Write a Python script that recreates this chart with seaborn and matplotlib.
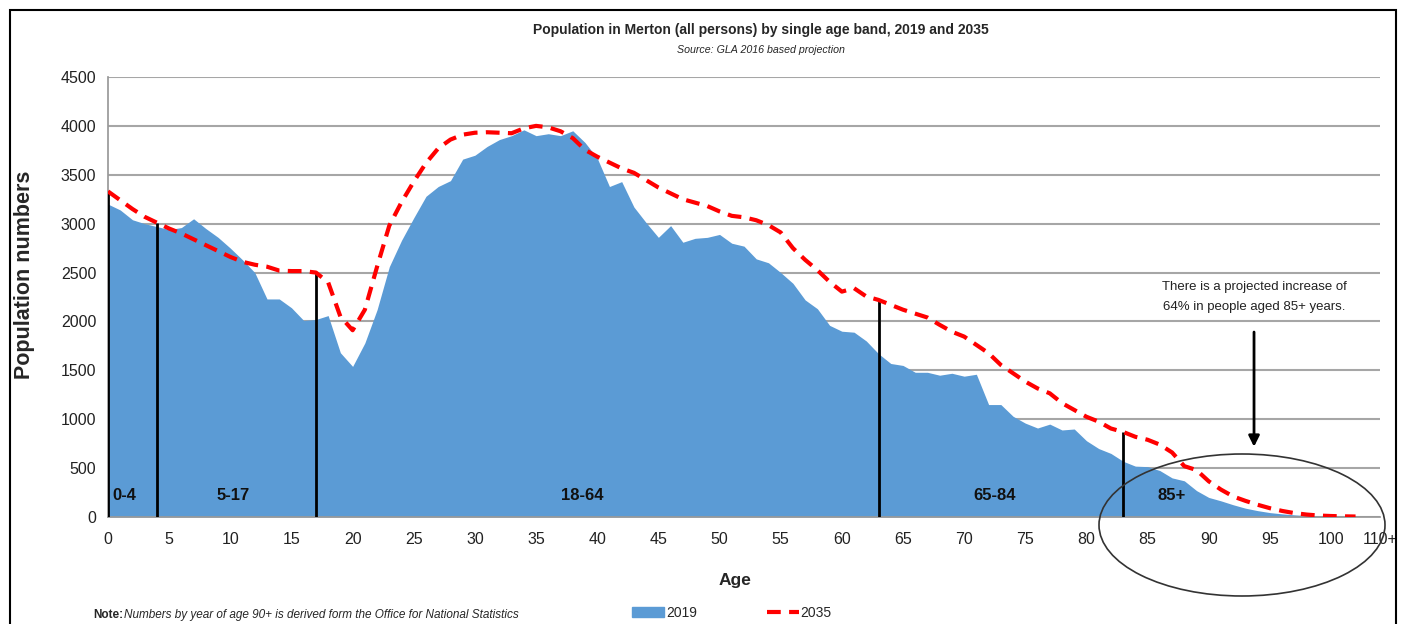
import numpy as np
import matplotlib
matplotlib.use("Agg")
import matplotlib.pyplot as plt
import seaborn as sns
from matplotlib.patches import Ellipse, Patch, Rectangle
from matplotlib.lines import Line2D

# single year of age 0..102
ages = list(range(0, 103))

pop_2019 = [3200, 3140, 3040, 3000, 2970, 2940, 2960, 3050, 2950, 2860,
            2750, 2630, 2500, 2230, 2230, 2140, 2010, 2020, 2060, 1680,
            1540, 1780, 2120, 2560, 2830, 3060, 3280, 3380, 3440, 3660,
            3700, 3790, 3860, 3900, 3960, 3900, 3920, 3900, 3950, 3830,
            3670, 3380, 3430, 3170, 3010, 2860, 2980, 2810, 2850, 2860,
            2890, 2800, 2770, 2640, 2600, 2500, 2390, 2220, 2130, 1960,
            1900, 1890, 1800, 1670, 1570, 1550, 1480, 1480, 1450, 1470,
            1440, 1460, 1150, 1150, 1030, 960, 910, 950, 890, 900,
            780, 700, 650, 570, 520, 515, 475, 400, 370, 270,
            200, 165, 125, 90, 65, 45, 32, 22, 14, 9,
            6, 4, 3]

pop_2035 = [3330, 3240, 3150, 3070, 3010, 2950, 2900, 2840, 2780, 2720,
            2660, 2610, 2580, 2560, 2520, 2515, 2515, 2500, 2400, 2050,
            1910, 2120, 2560, 2980, 3220, 3430, 3620, 3770, 3860, 3910,
            3930, 3935, 3930, 3925, 3975, 4000, 3985, 3945, 3875, 3755,
            3685, 3625, 3565, 3520, 3445, 3370, 3310, 3250, 3215, 3180,
            3125, 3080, 3065, 3035, 2985, 2910, 2750, 2630, 2525, 2405,
            2305, 2340, 2255, 2220, 2170, 2120, 2080, 2040, 1965, 1895,
            1845, 1760, 1675, 1555, 1470, 1385, 1315, 1265, 1165, 1095,
            1025, 975, 905, 870, 820, 790, 740, 660, 520, 480,
            365, 280, 210, 165, 125, 90, 62, 40, 25, 15,
            10, 7, 5]

band_edges = [0, 4, 17, 63, 83]
band_labels = ["0-4", "5-17", "18-64", "65-84", "85+"]
band_label_x = [1.3, 10.2, 38.8, 72.5, 87.0]

tick_pos = list(range(0, 105))
tick_labels = [str(i) if (i % 5 == 0 and i <= 100) else "" for i in tick_pos]
tick_labels[-1] = "110+"

BLUE = "#5B9BD5"
RED = "#FF0000"

sns.set_theme(style="white")
plt.rcParams['font.family'] = ['Liberation Sans', 'DejaVu Sans']

fig = plt.figure(figsize=(14.02, 6.24), dpi=100)
ax = fig.add_axes([108 / 1402, 1 - 517 / 624, (1380 - 108) / 1402, (517 - 77) / 624])

ax.fill_between(ages, pop_2019, color=BLUE, linewidth=0, zorder=2)
sns.lineplot(x=ages, y=pop_2035, ax=ax, color=RED, linewidth=3,
             linestyle=(0, (3.3, 2)), zorder=4)

# age band dividers up to the 2035 line
ax.vlines(band_edges, 0, np.interp(band_edges, ages, pop_2035),
          colors="black", linewidth=2, zorder=3)
for lab, x in zip(band_labels, band_label_x):
    ax.text(x, 225, lab, ha="center", va="center", fontsize=12,
            fontweight="bold", zorder=5, color="#111111")

ax.set_xlim(0, 104)
ax.set_ylim(0, 4500)
ax.set_yticks(range(0, 4501, 500))
ax.set_xticks(tick_pos)
ax.set_xticklabels(tick_labels)
ax.yaxis.grid(True, color="#A6A6A6", linewidth=1.5)
ax.set_axisbelow(True)
ax.tick_params(axis="both", direction="out", length=5, width=1,
               color="#999999", labelsize=11.5, labelcolor="#222222")
ax.tick_params(axis="x", pad=6)
for s in ["top", "right"]:
    ax.spines[s].set_visible(False)
for s in ["left", "bottom"]:
    ax.spines[s].set_color("#999999")
ax.set_xlabel("")
ax.set_ylabel("")

# annotation for 85+
ax.annotate("", xy=(93.7, 690), xytext=(93.7, 1920),
            arrowprops=dict(arrowstyle="-|>", color="black", lw=2, mutation_scale=16))
ax.text(93.7, 2250, "There is a projected increase of\n64% in people aged 85+ years.",
        ha="center", va="center", fontsize=9.5, linespacing=1.8, color="#222222")

fig.add_artist(Ellipse((1242 / 1402, 1 - 525 / 624), 286 / 1402, 142 / 624,
                       transform=fig.transFigure, fill=False,
                       edgecolor="#333333", linewidth=1.2))

# outer chart border
fig.add_artist(Rectangle((10 / 1402, -0.1), (1396 - 10) / 1402, 1.1 - 10 / 624,
                         transform=fig.transFigure, fill=False,
                         edgecolor="black", linewidth=1.5))

fig.text(0.543, 1 - 30 / 624,
         "Population in Merton (all persons) by single age band, 2019 and 2035",
         ha="center", va="center", fontsize=10, fontweight="bold")
fig.text(0.543, 1 - 50 / 624, "Source: GLA 2016 based projection",
         ha="center", va="center", fontsize=7.7, style="italic")
fig.text(25 / 1402, 1 - 275 / 624, "Population numbers", rotation=90,
         ha="center", va="center", fontsize=15.5, fontweight="bold")
fig.text(735 / 1402, 1 - 580 / 624, "Age", ha="center", va="center",
         fontsize=12.5, fontweight="bold")

fig.text(93 / 1402, 1 - 615 / 624, "Note:", ha="left", va="center",
         fontsize=8.5, fontweight="bold")
fig.text(124 / 1402, 1 - 615 / 624,
         "Numbers by year of age 90+ is derived form the Office for National Statistics",
         ha="left", va="center", fontsize=8.5, style="italic")

handles = [Patch(facecolor=BLUE, edgecolor=BLUE, label="2019"),
           Line2D([0], [0], color=RED, linewidth=3, linestyle=(0, (3.3, 2)), label="2035")]
fig.legend(handles=handles, loc="center", bbox_to_anchor=(732 / 1402, 1 - 613 / 624),
           ncol=2, frameon=False, fontsize=10, handlelength=2.3,
           handletextpad=0.15, columnspacing=5)

fig.savefig("out.png", dpi=100)
